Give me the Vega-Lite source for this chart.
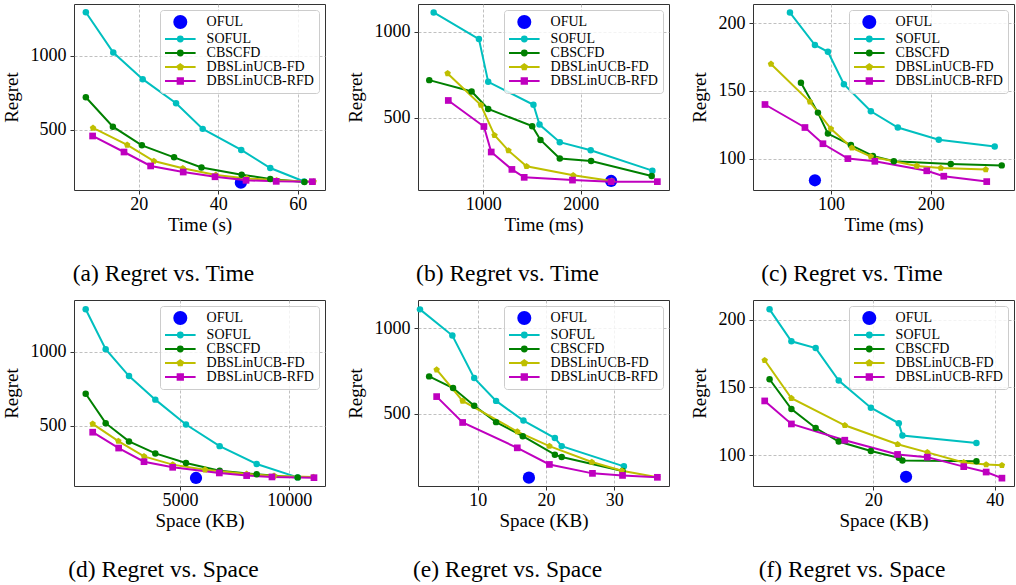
{
  "$schema": "https://vega.github.io/schema/vega-lite/v6.json",
  "padding": {"left": 1, "top": 3, "right": 0, "bottom": 0},
  "background": "white",
  "datasets": {
    "a": [
      {"method": "OFUL", "x": 45.7, "y": 144},
      {"method": "SOFUL", "x": 6.7, "y": 1293}, {"method": "SOFUL", "x": 13.6, "y": 1022}, {"method": "SOFUL", "x": 21.0, "y": 842}, {"method": "SOFUL", "x": 29.4, "y": 680}, {"method": "SOFUL", "x": 36.1, "y": 507}, {"method": "SOFUL", "x": 45.8, "y": 365}, {"method": "SOFUL", "x": 53.1, "y": 243}, {"method": "SOFUL", "x": 61.6, "y": 152},
      {"method": "CBSCFD", "x": 6.7, "y": 720}, {"method": "CBSCFD", "x": 13.5, "y": 522}, {"method": "CBSCFD", "x": 20.8, "y": 396}, {"method": "CBSCFD", "x": 28.9, "y": 315}, {"method": "CBSCFD", "x": 35.8, "y": 247}, {"method": "CBSCFD", "x": 45.9, "y": 198}, {"method": "CBSCFD", "x": 53.1, "y": 169}, {"method": "CBSCFD", "x": 61.7, "y": 149},
      {"method": "DBSLinUCB-FD", "x": 8.5, "y": 513}, {"method": "DBSLinUCB-FD", "x": 17.1, "y": 399}, {"method": "DBSLinUCB-FD", "x": 23.8, "y": 290}, {"method": "DBSLinUCB-FD", "x": 31.1, "y": 241}, {"method": "DBSLinUCB-FD", "x": 39.4, "y": 196}, {"method": "DBSLinUCB-FD", "x": 47.2, "y": 173}, {"method": "DBSLinUCB-FD", "x": 54.7, "y": 160}, {"method": "DBSLinUCB-FD", "x": 64.0, "y": 151},
      {"method": "DBSLinUCB-RFD", "x": 8.4, "y": 459}, {"method": "DBSLinUCB-RFD", "x": 16.3, "y": 351}, {"method": "DBSLinUCB-RFD", "x": 23.0, "y": 257}, {"method": "DBSLinUCB-RFD", "x": 31.2, "y": 216}, {"method": "DBSLinUCB-RFD", "x": 39.2, "y": 184}, {"method": "DBSLinUCB-RFD", "x": 47.0, "y": 160}, {"method": "DBSLinUCB-RFD", "x": 54.6, "y": 153}, {"method": "DBSLinUCB-RFD", "x": 63.7, "y": 151}
    ],
    "b": [
      {"method": "OFUL", "x": 2311, "y": 134},
      {"method": "SOFUL", "x": 492, "y": 1112}, {"method": "SOFUL", "x": 956, "y": 957}, {"method": "SOFUL", "x": 1051, "y": 709}, {"method": "SOFUL", "x": 1515, "y": 576}, {"method": "SOFUL", "x": 1577, "y": 461}, {"method": "SOFUL", "x": 1785, "y": 359}, {"method": "SOFUL", "x": 2102, "y": 312}, {"method": "SOFUL", "x": 2734, "y": 194},
      {"method": "CBSCFD", "x": 447, "y": 719}, {"method": "CBSCFD", "x": 881, "y": 653}, {"method": "CBSCFD", "x": 1051, "y": 552}, {"method": "CBSCFD", "x": 1502, "y": 452}, {"method": "CBSCFD", "x": 1587, "y": 372}, {"method": "CBSCFD", "x": 1785, "y": 264}, {"method": "CBSCFD", "x": 2106, "y": 250}, {"method": "CBSCFD", "x": 2727, "y": 163},
      {"method": "DBSLinUCB-FD", "x": 635, "y": 758}, {"method": "DBSLinUCB-FD", "x": 976, "y": 574}, {"method": "DBSLinUCB-FD", "x": 1116, "y": 399}, {"method": "DBSLinUCB-FD", "x": 1259, "y": 310}, {"method": "DBSLinUCB-FD", "x": 1444, "y": 219}, {"method": "DBSLinUCB-FD", "x": 1922, "y": 167}, {"method": "DBSLinUCB-FD", "x": 2317, "y": 134},
      {"method": "DBSLinUCB-RFD", "x": 642, "y": 601}, {"method": "DBSLinUCB-RFD", "x": 1007, "y": 450}, {"method": "DBSLinUCB-RFD", "x": 1082, "y": 302}, {"method": "DBSLinUCB-RFD", "x": 1294, "y": 201}, {"method": "DBSLinUCB-RFD", "x": 1420, "y": 155}, {"method": "DBSLinUCB-RFD", "x": 1915, "y": 139}, {"method": "DBSLinUCB-RFD", "x": 2311, "y": 130}, {"method": "DBSLinUCB-RFD", "x": 2785, "y": 130}
    ],
    "c": [
      {"method": "OFUL", "x": 84, "y": 84},
      {"method": "SOFUL", "x": 59, "y": 208}, {"method": "SOFUL", "x": 84, "y": 184}, {"method": "SOFUL", "x": 97, "y": 179}, {"method": "SOFUL", "x": 113, "y": 155}, {"method": "SOFUL", "x": 140, "y": 135}, {"method": "SOFUL", "x": 167, "y": 123}, {"method": "SOFUL", "x": 208, "y": 114}, {"method": "SOFUL", "x": 264, "y": 109},
      {"method": "CBSCFD", "x": 70, "y": 156}, {"method": "CBSCFD", "x": 87, "y": 134}, {"method": "CBSCFD", "x": 97, "y": 118.5}, {"method": "CBSCFD", "x": 120, "y": 110}, {"method": "CBSCFD", "x": 142, "y": 102}, {"method": "CBSCFD", "x": 163, "y": 98}, {"method": "CBSCFD", "x": 220, "y": 96}, {"method": "CBSCFD", "x": 271, "y": 95},
      {"method": "DBSLinUCB-FD", "x": 40, "y": 170}, {"method": "DBSLinUCB-FD", "x": 79, "y": 142}, {"method": "DBSLinUCB-FD", "x": 100, "y": 122}, {"method": "DBSLinUCB-FD", "x": 121, "y": 108}, {"method": "DBSLinUCB-FD", "x": 140, "y": 101.5}, {"method": "DBSLinUCB-FD", "x": 186, "y": 94.6}, {"method": "DBSLinUCB-FD", "x": 210, "y": 93}, {"method": "DBSLinUCB-FD", "x": 255, "y": 92},
      {"method": "DBSLinUCB-RFD", "x": 34, "y": 140}, {"method": "DBSLinUCB-RFD", "x": 74, "y": 123}, {"method": "DBSLinUCB-RFD", "x": 92, "y": 111}, {"method": "DBSLinUCB-RFD", "x": 117, "y": 100}, {"method": "DBSLinUCB-RFD", "x": 144, "y": 98}, {"method": "DBSLinUCB-RFD", "x": 196, "y": 91}, {"method": "DBSLinUCB-RFD", "x": 213, "y": 87}, {"method": "DBSLinUCB-RFD", "x": 256, "y": 83}
    ],
    "d": [
      {"method": "OFUL", "x": 5732, "y": 148},
      {"method": "SOFUL", "x": 687, "y": 1287}, {"method": "SOFUL", "x": 1601, "y": 1018}, {"method": "SOFUL", "x": 2668, "y": 836}, {"method": "SOFUL", "x": 3872, "y": 677}, {"method": "SOFUL", "x": 5274, "y": 509}, {"method": "SOFUL", "x": 6814, "y": 363}, {"method": "SOFUL", "x": 8506, "y": 242}, {"method": "SOFUL", "x": 10381, "y": 152},
      {"method": "CBSCFD", "x": 687, "y": 717}, {"method": "CBSCFD", "x": 1601, "y": 518}, {"method": "CBSCFD", "x": 2668, "y": 395}, {"method": "CBSCFD", "x": 3872, "y": 314}, {"method": "CBSCFD", "x": 5274, "y": 249}, {"method": "CBSCFD", "x": 6814, "y": 197}, {"method": "CBSCFD", "x": 8506, "y": 173}, {"method": "CBSCFD", "x": 10381, "y": 152},
      {"method": "DBSLinUCB-FD", "x": 1007, "y": 513}, {"method": "DBSLinUCB-FD", "x": 2180, "y": 397}, {"method": "DBSLinUCB-FD", "x": 3354, "y": 294}, {"method": "DBSLinUCB-FD", "x": 4665, "y": 238}, {"method": "DBSLinUCB-FD", "x": 6143, "y": 204}, {"method": "DBSLinUCB-FD", "x": 8048, "y": 175}, {"method": "DBSLinUCB-FD", "x": 9300, "y": 162}, {"method": "DBSLinUCB-FD", "x": 11100, "y": 154},
      {"method": "DBSLinUCB-RFD", "x": 1007, "y": 457}, {"method": "DBSLinUCB-RFD", "x": 2195, "y": 350}, {"method": "DBSLinUCB-RFD", "x": 3354, "y": 258}, {"method": "DBSLinUCB-RFD", "x": 4665, "y": 220}, {"method": "DBSLinUCB-RFD", "x": 6798, "y": 182}, {"method": "DBSLinUCB-RFD", "x": 8048, "y": 164}, {"method": "DBSLinUCB-RFD", "x": 9206, "y": 155}, {"method": "DBSLinUCB-RFD", "x": 11127, "y": 150}
    ],
    "e": [
      {"method": "OFUL", "x": 17.5, "y": 128},
      {"method": "SOFUL", "x": 1.56, "y": 1110}, {"method": "SOFUL", "x": 6.3, "y": 957}, {"method": "SOFUL", "x": 9.5, "y": 709}, {"method": "SOFUL", "x": 12.7, "y": 576}, {"method": "SOFUL", "x": 16.7, "y": 461}, {"method": "SOFUL", "x": 21.3, "y": 359}, {"method": "SOFUL", "x": 22.3, "y": 312}, {"method": "SOFUL", "x": 31.4, "y": 194},
      {"method": "CBSCFD", "x": 2.9, "y": 719}, {"method": "CBSCFD", "x": 6.4, "y": 651}, {"method": "CBSCFD", "x": 9.5, "y": 548}, {"method": "CBSCFD", "x": 12.7, "y": 452}, {"method": "CBSCFD", "x": 16.6, "y": 370}, {"method": "CBSCFD", "x": 21.3, "y": 262}, {"method": "CBSCFD", "x": 22.3, "y": 248}, {"method": "CBSCFD", "x": 31.2, "y": 167},
      {"method": "DBSLinUCB-FD", "x": 4.0, "y": 758}, {"method": "DBSLinUCB-FD", "x": 7.8, "y": 576}, {"method": "DBSLinUCB-FD", "x": 15.8, "y": 397}, {"method": "DBSLinUCB-FD", "x": 20.5, "y": 312}, {"method": "DBSLinUCB-FD", "x": 26.7, "y": 219}, {"method": "DBSLinUCB-FD", "x": 31.1, "y": 168}, {"method": "DBSLinUCB-FD", "x": 36.3, "y": 130},
      {"method": "DBSLinUCB-RFD", "x": 4.0, "y": 601}, {"method": "DBSLinUCB-RFD", "x": 7.8, "y": 450}, {"method": "DBSLinUCB-RFD", "x": 15.8, "y": 302}, {"method": "DBSLinUCB-RFD", "x": 20.5, "y": 205}, {"method": "DBSLinUCB-RFD", "x": 26.8, "y": 153}, {"method": "DBSLinUCB-RFD", "x": 31.2, "y": 141}, {"method": "DBSLinUCB-RFD", "x": 36.3, "y": 130}
    ],
    "f": [
      {"method": "OFUL", "x": 25.4, "y": 84},
      {"method": "SOFUL", "x": 2.9, "y": 207.6}, {"method": "SOFUL", "x": 6.5, "y": 184}, {"method": "SOFUL", "x": 10.5, "y": 179}, {"method": "SOFUL", "x": 14.3, "y": 155}, {"method": "SOFUL", "x": 19.6, "y": 135}, {"method": "SOFUL", "x": 24.2, "y": 123.5}, {"method": "SOFUL", "x": 24.8, "y": 114.5}, {"method": "SOFUL", "x": 37.0, "y": 109},
      {"method": "CBSCFD", "x": 2.9, "y": 156}, {"method": "CBSCFD", "x": 6.5, "y": 134}, {"method": "CBSCFD", "x": 10.5, "y": 120}, {"method": "CBSCFD", "x": 14.3, "y": 110}, {"method": "CBSCFD", "x": 19.6, "y": 103}, {"method": "CBSCFD", "x": 24.2, "y": 98}, {"method": "CBSCFD", "x": 24.8, "y": 96}, {"method": "CBSCFD", "x": 37.0, "y": 95.5},
      {"method": "DBSLinUCB-FD", "x": 2.1, "y": 170}, {"method": "DBSLinUCB-FD", "x": 6.5, "y": 142}, {"method": "DBSLinUCB-FD", "x": 15.3, "y": 122}, {"method": "DBSLinUCB-FD", "x": 24.0, "y": 108}, {"method": "DBSLinUCB-FD", "x": 28.9, "y": 102}, {"method": "DBSLinUCB-FD", "x": 34.9, "y": 94.6}, {"method": "DBSLinUCB-FD", "x": 38.6, "y": 93}, {"method": "DBSLinUCB-FD", "x": 41.2, "y": 92.5},
      {"method": "DBSLinUCB-RFD", "x": 2.1, "y": 140}, {"method": "DBSLinUCB-RFD", "x": 6.5, "y": 123}, {"method": "DBSLinUCB-RFD", "x": 15.3, "y": 111}, {"method": "DBSLinUCB-RFD", "x": 24.0, "y": 100.5}, {"method": "DBSLinUCB-RFD", "x": 28.9, "y": 98.5}, {"method": "DBSLinUCB-RFD", "x": 34.9, "y": 91.5}, {"method": "DBSLinUCB-RFD", "x": 38.6, "y": 87.5}, {"method": "DBSLinUCB-RFD", "x": 41.2, "y": 83}
    ]
  },
  "columns": 3,
  "align": "each",
  "spacing": {"row": 13, "column": 19},
  "resolve": {"scale": {"color": "independent", "shape": "independent"}, "legend": {"color": "independent", "shape": "independent"}},
  "concat": [
    {
      "width": 251, "height": 186,
      "data": {"name": "a"},
      "title": {"text": "(a) Regret vs. Time"},
      "encoding": {
        "x": {"field": "x", "type": "quantitative", "scale": {"domain": [3.72, 66.87], "nice": false, "zero": false}, "axis": {"values": [20, 40, 60], "format": "d", "title": "Time (s)"}},
        "y": {"field": "y", "type": "quantitative", "scale": {"domain": [94.8, 1348.9], "nice": false, "zero": false}, "axis": {"values": [500, 1000], "format": "d", "title": "Regret"}}
      },
      "layer": [
        {"transform": [{"filter": "datum.method === 'OFUL'"}], "mark": {"type": "point", "filled": true, "size": 150, "opacity": 1},
         "encoding": {"color": {"field": "method", "type": "nominal", "scale": {"domain": ["OFUL", "SOFUL", "CBSCFD", "DBSLinUCB-FD", "DBSLinUCB-RFD"], "range": ["#0000ff", "#00bfbf", "#008000", "#bfbf00", "#bf00bf"]}, "legend": {"title": null}}}},
        {"transform": [{"filter": "datum.method !== 'OFUL'"}], "mark": {"type": "line", "strokeWidth": 2}, "encoding": {"color": {"field": "method", "type": "nominal"}}},
        {"transform": [{"filter": "datum.method === 'SOFUL' || datum.method === 'CBSCFD'"}], "mark": {"type": "point", "filled": true, "shape": "circle", "size": 42, "opacity": 1}, "encoding": {"color": {"field": "method", "type": "nominal"}}},
        {"transform": [{"filter": "datum.method === 'DBSLinUCB-FD'"}], "mark": {"type": "point", "filled": true, "shape": "M0,-1L0.951,-0.309L0.588,0.809L-0.588,0.809L-0.951,-0.309Z", "size": 46, "opacity": 1}, "encoding": {"color": {"field": "method", "type": "nominal"}}},
        {"transform": [{"filter": "datum.method === 'DBSLinUCB-RFD'"}], "mark": {"type": "point", "filled": true, "shape": "square", "size": 45, "opacity": 1}, "encoding": {"color": {"field": "method", "type": "nominal"}}},
        {"transform": [{"filter": "false"}], "mark": {"type": "point", "filled": true, "opacity": 1},
         "encoding": {"color": {"field": "method", "type": "nominal"}, "shape": {"field": "method", "type": "nominal", "legend": {"title": null}, "scale": {"domain": ["OFUL", "SOFUL", "CBSCFD", "DBSLinUCB-FD", "DBSLinUCB-RFD"], "range": ["M1,0L0.924,0.383L0.707,0.707L0.383,0.924L0,1L-0.383,0.924L-0.707,0.707L-0.924,0.383L-1,0L-0.924,-0.383L-0.707,-0.707L-0.383,-0.924L0,-1L0.383,-0.924L0.707,-0.707L0.924,-0.383Z", "M-2.55,0H2.55M-0.4,0A0.4,0.4 0 1,0 0.4,0A0.4,0.4 0 1,0 -0.4,0Z", "M-2.55,0H2.55M-0.4,0A0.4,0.4 0 1,0 0.4,0A0.4,0.4 0 1,0 -0.4,0Z", "M-2.55,0H2.55M0,-0.45L0.43,-0.14L0.26,0.36L-0.26,0.36L-0.43,-0.14Z", "M-2.55,0H2.55M-0.44,-0.44H0.44V0.44H-0.44Z"]}}}}
      ]
    },
    {
      "width": 251, "height": 186,
      "data": {"name": "b"},
      "title": {"text": "(b) Regret vs. Time"},
      "encoding": {
        "x": {"field": "x", "type": "quantitative", "scale": {"domain": [331.4, 2904.4], "nice": false, "zero": false}, "axis": {"values": [1000, 2000], "format": "d", "title": "Time (ms)"}},
        "y": {"field": "y", "type": "quantitative", "scale": {"domain": [81.6, 1160.7], "nice": false, "zero": false}, "axis": {"values": [500, 1000], "format": "d", "title": "Regret"}}
      },
      "layer": [
        {"transform": [{"filter": "datum.method === 'OFUL'"}], "mark": {"type": "point", "filled": true, "size": 150, "opacity": 1},
         "encoding": {"color": {"field": "method", "type": "nominal", "scale": {"domain": ["OFUL", "SOFUL", "CBSCFD", "DBSLinUCB-FD", "DBSLinUCB-RFD"], "range": ["#0000ff", "#00bfbf", "#008000", "#bfbf00", "#bf00bf"]}, "legend": {"title": null}}}},
        {"transform": [{"filter": "datum.method !== 'OFUL'"}], "mark": {"type": "line", "strokeWidth": 2}, "encoding": {"color": {"field": "method", "type": "nominal"}}},
        {"transform": [{"filter": "datum.method === 'SOFUL' || datum.method === 'CBSCFD'"}], "mark": {"type": "point", "filled": true, "shape": "circle", "size": 42, "opacity": 1}, "encoding": {"color": {"field": "method", "type": "nominal"}}},
        {"transform": [{"filter": "datum.method === 'DBSLinUCB-FD'"}], "mark": {"type": "point", "filled": true, "shape": "M0,-1L0.951,-0.309L0.588,0.809L-0.588,0.809L-0.951,-0.309Z", "size": 46, "opacity": 1}, "encoding": {"color": {"field": "method", "type": "nominal"}}},
        {"transform": [{"filter": "datum.method === 'DBSLinUCB-RFD'"}], "mark": {"type": "point", "filled": true, "shape": "square", "size": 45, "opacity": 1}, "encoding": {"color": {"field": "method", "type": "nominal"}}},
        {"transform": [{"filter": "false"}], "mark": {"type": "point", "filled": true, "opacity": 1},
         "encoding": {"color": {"field": "method", "type": "nominal"}, "shape": {"field": "method", "type": "nominal", "legend": {"title": null}, "scale": {"domain": ["OFUL", "SOFUL", "CBSCFD", "DBSLinUCB-FD", "DBSLinUCB-RFD"], "range": ["M1,0L0.924,0.383L0.707,0.707L0.383,0.924L0,1L-0.383,0.924L-0.707,0.707L-0.924,0.383L-1,0L-0.924,-0.383L-0.707,-0.707L-0.383,-0.924L0,-1L0.383,-0.924L0.707,-0.707L0.924,-0.383Z", "M-2.55,0H2.55M-0.4,0A0.4,0.4 0 1,0 0.4,0A0.4,0.4 0 1,0 -0.4,0Z", "M-2.55,0H2.55M-0.4,0A0.4,0.4 0 1,0 0.4,0A0.4,0.4 0 1,0 -0.4,0Z", "M-2.55,0H2.55M0,-0.45L0.43,-0.14L0.26,0.36L-0.26,0.36L-0.43,-0.14Z", "M-2.55,0H2.55M-0.44,-0.44H0.44V0.44H-0.44Z"]}}}}
      ]
    },
    {
      "width": 261, "height": 186,
      "data": {"name": "c"},
      "title": {"text": "(c) Regret vs. Time"},
      "encoding": {
        "x": {"field": "x", "type": "quantitative", "scale": {"domain": [22, 283.3], "nice": false, "zero": false}, "axis": {"values": [100, 200], "title": "Time (ms)"}},
        "y": {"field": "y", "type": "quantitative", "scale": {"domain": [76.8, 214.3], "nice": false, "zero": false}, "axis": {"values": [100, 150, 200], "title": "Regret"}}
      },
      "layer": [
        {"transform": [{"filter": "datum.method === 'OFUL'"}], "mark": {"type": "point", "filled": true, "size": 150, "opacity": 1},
         "encoding": {"color": {"field": "method", "type": "nominal", "scale": {"domain": ["OFUL", "SOFUL", "CBSCFD", "DBSLinUCB-FD", "DBSLinUCB-RFD"], "range": ["#0000ff", "#00bfbf", "#008000", "#bfbf00", "#bf00bf"]}, "legend": {"title": null}}}},
        {"transform": [{"filter": "datum.method !== 'OFUL'"}], "mark": {"type": "line", "strokeWidth": 2}, "encoding": {"color": {"field": "method", "type": "nominal"}}},
        {"transform": [{"filter": "datum.method === 'SOFUL' || datum.method === 'CBSCFD'"}], "mark": {"type": "point", "filled": true, "shape": "circle", "size": 42, "opacity": 1}, "encoding": {"color": {"field": "method", "type": "nominal"}}},
        {"transform": [{"filter": "datum.method === 'DBSLinUCB-FD'"}], "mark": {"type": "point", "filled": true, "shape": "M0,-1L0.951,-0.309L0.588,0.809L-0.588,0.809L-0.951,-0.309Z", "size": 46, "opacity": 1}, "encoding": {"color": {"field": "method", "type": "nominal"}}},
        {"transform": [{"filter": "datum.method === 'DBSLinUCB-RFD'"}], "mark": {"type": "point", "filled": true, "shape": "square", "size": 45, "opacity": 1}, "encoding": {"color": {"field": "method", "type": "nominal"}}},
        {"transform": [{"filter": "false"}], "mark": {"type": "point", "filled": true, "opacity": 1},
         "encoding": {"color": {"field": "method", "type": "nominal"}, "shape": {"field": "method", "type": "nominal", "legend": {"title": null}, "scale": {"domain": ["OFUL", "SOFUL", "CBSCFD", "DBSLinUCB-FD", "DBSLinUCB-RFD"], "range": ["M1,0L0.924,0.383L0.707,0.707L0.383,0.924L0,1L-0.383,0.924L-0.707,0.707L-0.924,0.383L-1,0L-0.924,-0.383L-0.707,-0.707L-0.383,-0.924L0,-1L0.383,-0.924L0.707,-0.707L0.924,-0.383Z", "M-2.55,0H2.55M-0.4,0A0.4,0.4 0 1,0 0.4,0A0.4,0.4 0 1,0 -0.4,0Z", "M-2.55,0H2.55M-0.4,0A0.4,0.4 0 1,0 0.4,0A0.4,0.4 0 1,0 -0.4,0Z", "M-2.55,0H2.55M0,-0.45L0.43,-0.14L0.26,0.36L-0.26,0.36L-0.43,-0.14Z", "M-2.55,0H2.55M-0.44,-0.44H0.44V0.44H-0.44Z"]}}}}
      ]
    },
    {
      "width": 251, "height": 186,
      "data": {"name": "d"},
      "title": {"text": "(d) Regret vs. Space"},
      "encoding": {
        "x": {"field": "x", "type": "quantitative", "scale": {"domain": [152.5, 11631], "nice": false, "zero": false}, "axis": {"values": [5000, 10000], "format": "d", "title": "Space (KB)"}},
        "y": {"field": "y", "type": "quantitative", "scale": {"domain": [93.8, 1349.7], "nice": false, "zero": false}, "axis": {"values": [500, 1000], "format": "d", "title": "Regret"}}
      },
      "layer": [
        {"transform": [{"filter": "datum.method === 'OFUL'"}], "mark": {"type": "point", "filled": true, "size": 150, "opacity": 1},
         "encoding": {"color": {"field": "method", "type": "nominal", "scale": {"domain": ["OFUL", "SOFUL", "CBSCFD", "DBSLinUCB-FD", "DBSLinUCB-RFD"], "range": ["#0000ff", "#00bfbf", "#008000", "#bfbf00", "#bf00bf"]}, "legend": {"title": null}}}},
        {"transform": [{"filter": "datum.method !== 'OFUL'"}], "mark": {"type": "line", "strokeWidth": 2}, "encoding": {"color": {"field": "method", "type": "nominal"}}},
        {"transform": [{"filter": "datum.method === 'SOFUL' || datum.method === 'CBSCFD'"}], "mark": {"type": "point", "filled": true, "shape": "circle", "size": 42, "opacity": 1}, "encoding": {"color": {"field": "method", "type": "nominal"}}},
        {"transform": [{"filter": "datum.method === 'DBSLinUCB-FD'"}], "mark": {"type": "point", "filled": true, "shape": "M0,-1L0.951,-0.309L0.588,0.809L-0.588,0.809L-0.951,-0.309Z", "size": 46, "opacity": 1}, "encoding": {"color": {"field": "method", "type": "nominal"}}},
        {"transform": [{"filter": "datum.method === 'DBSLinUCB-RFD'"}], "mark": {"type": "point", "filled": true, "shape": "square", "size": 45, "opacity": 1}, "encoding": {"color": {"field": "method", "type": "nominal"}}},
        {"transform": [{"filter": "false"}], "mark": {"type": "point", "filled": true, "opacity": 1},
         "encoding": {"color": {"field": "method", "type": "nominal"}, "shape": {"field": "method", "type": "nominal", "legend": {"title": null}, "scale": {"domain": ["OFUL", "SOFUL", "CBSCFD", "DBSLinUCB-FD", "DBSLinUCB-RFD"], "range": ["M1,0L0.924,0.383L0.707,0.707L0.383,0.924L0,1L-0.383,0.924L-0.707,0.707L-0.924,0.383L-1,0L-0.924,-0.383L-0.707,-0.707L-0.383,-0.924L0,-1L0.383,-0.924L0.707,-0.707L0.924,-0.383Z", "M-2.55,0H2.55M-0.4,0A0.4,0.4 0 1,0 0.4,0A0.4,0.4 0 1,0 -0.4,0Z", "M-2.55,0H2.55M-0.4,0A0.4,0.4 0 1,0 0.4,0A0.4,0.4 0 1,0 -0.4,0Z", "M-2.55,0H2.55M0,-0.45L0.43,-0.14L0.26,0.36L-0.26,0.36L-0.43,-0.14Z", "M-2.55,0H2.55M-0.44,-0.44H0.44V0.44H-0.44Z"]}}}}
      ]
    },
    {
      "width": 251, "height": 186,
      "data": {"name": "e"},
      "title": {"text": "(e) Regret vs. Space"},
      "encoding": {
        "x": {"field": "x", "type": "quantitative", "scale": {"domain": [1.27, 38.0], "nice": false, "zero": false}, "axis": {"values": [10, 20, 30], "title": "Space (KB)"}},
        "y": {"field": "y", "type": "quantitative", "scale": {"domain": [79.3, 1164.7], "nice": false, "zero": false}, "axis": {"values": [500, 1000], "format": "d", "title": "Regret"}}
      },
      "layer": [
        {"transform": [{"filter": "datum.method === 'OFUL'"}], "mark": {"type": "point", "filled": true, "size": 150, "opacity": 1},
         "encoding": {"color": {"field": "method", "type": "nominal", "scale": {"domain": ["OFUL", "SOFUL", "CBSCFD", "DBSLinUCB-FD", "DBSLinUCB-RFD"], "range": ["#0000ff", "#00bfbf", "#008000", "#bfbf00", "#bf00bf"]}, "legend": {"title": null}}}},
        {"transform": [{"filter": "datum.method !== 'OFUL'"}], "mark": {"type": "line", "strokeWidth": 2}, "encoding": {"color": {"field": "method", "type": "nominal"}}},
        {"transform": [{"filter": "datum.method === 'SOFUL' || datum.method === 'CBSCFD'"}], "mark": {"type": "point", "filled": true, "shape": "circle", "size": 42, "opacity": 1}, "encoding": {"color": {"field": "method", "type": "nominal"}}},
        {"transform": [{"filter": "datum.method === 'DBSLinUCB-FD'"}], "mark": {"type": "point", "filled": true, "shape": "M0,-1L0.951,-0.309L0.588,0.809L-0.588,0.809L-0.951,-0.309Z", "size": 46, "opacity": 1}, "encoding": {"color": {"field": "method", "type": "nominal"}}},
        {"transform": [{"filter": "datum.method === 'DBSLinUCB-RFD'"}], "mark": {"type": "point", "filled": true, "shape": "square", "size": 45, "opacity": 1}, "encoding": {"color": {"field": "method", "type": "nominal"}}},
        {"transform": [{"filter": "false"}], "mark": {"type": "point", "filled": true, "opacity": 1},
         "encoding": {"color": {"field": "method", "type": "nominal"}, "shape": {"field": "method", "type": "nominal", "legend": {"title": null}, "scale": {"domain": ["OFUL", "SOFUL", "CBSCFD", "DBSLinUCB-FD", "DBSLinUCB-RFD"], "range": ["M1,0L0.924,0.383L0.707,0.707L0.383,0.924L0,1L-0.383,0.924L-0.707,0.707L-0.924,0.383L-1,0L-0.924,-0.383L-0.707,-0.707L-0.383,-0.924L0,-1L0.383,-0.924L0.707,-0.707L0.924,-0.383Z", "M-2.55,0H2.55M-0.4,0A0.4,0.4 0 1,0 0.4,0A0.4,0.4 0 1,0 -0.4,0Z", "M-2.55,0H2.55M-0.4,0A0.4,0.4 0 1,0 0.4,0A0.4,0.4 0 1,0 -0.4,0Z", "M-2.55,0H2.55M0,-0.45L0.43,-0.14L0.26,0.36L-0.26,0.36L-0.43,-0.14Z", "M-2.55,0H2.55M-0.44,-0.44H0.44V0.44H-0.44Z"]}}}}
      ]
    },
    {
      "width": 261, "height": 186,
      "data": {"name": "f"},
      "title": {"text": "(f) Regret vs. Space"},
      "encoding": {
        "x": {"field": "x", "type": "quantitative", "scale": {"domain": [0.17, 43.19], "nice": false, "zero": false}, "axis": {"values": [20, 40], "title": "Space (KB)"}},
        "y": {"field": "y", "type": "quantitative", "scale": {"domain": [77.2, 214.5], "nice": false, "zero": false}, "axis": {"values": [100, 150, 200], "title": "Regret"}}
      },
      "layer": [
        {"transform": [{"filter": "datum.method === 'OFUL'"}], "mark": {"type": "point", "filled": true, "size": 150, "opacity": 1},
         "encoding": {"color": {"field": "method", "type": "nominal", "scale": {"domain": ["OFUL", "SOFUL", "CBSCFD", "DBSLinUCB-FD", "DBSLinUCB-RFD"], "range": ["#0000ff", "#00bfbf", "#008000", "#bfbf00", "#bf00bf"]}, "legend": {"title": null}}}},
        {"transform": [{"filter": "datum.method !== 'OFUL'"}], "mark": {"type": "line", "strokeWidth": 2}, "encoding": {"color": {"field": "method", "type": "nominal"}}},
        {"transform": [{"filter": "datum.method === 'SOFUL' || datum.method === 'CBSCFD'"}], "mark": {"type": "point", "filled": true, "shape": "circle", "size": 42, "opacity": 1}, "encoding": {"color": {"field": "method", "type": "nominal"}}},
        {"transform": [{"filter": "datum.method === 'DBSLinUCB-FD'"}], "mark": {"type": "point", "filled": true, "shape": "M0,-1L0.951,-0.309L0.588,0.809L-0.588,0.809L-0.951,-0.309Z", "size": 46, "opacity": 1}, "encoding": {"color": {"field": "method", "type": "nominal"}}},
        {"transform": [{"filter": "datum.method === 'DBSLinUCB-RFD'"}], "mark": {"type": "point", "filled": true, "shape": "square", "size": 45, "opacity": 1}, "encoding": {"color": {"field": "method", "type": "nominal"}}},
        {"transform": [{"filter": "false"}], "mark": {"type": "point", "filled": true, "opacity": 1},
         "encoding": {"color": {"field": "method", "type": "nominal"}, "shape": {"field": "method", "type": "nominal", "legend": {"title": null}, "scale": {"domain": ["OFUL", "SOFUL", "CBSCFD", "DBSLinUCB-FD", "DBSLinUCB-RFD"], "range": ["M1,0L0.924,0.383L0.707,0.707L0.383,0.924L0,1L-0.383,0.924L-0.707,0.707L-0.924,0.383L-1,0L-0.924,-0.383L-0.707,-0.707L-0.383,-0.924L0,-1L0.383,-0.924L0.707,-0.707L0.924,-0.383Z", "M-2.55,0H2.55M-0.4,0A0.4,0.4 0 1,0 0.4,0A0.4,0.4 0 1,0 -0.4,0Z", "M-2.55,0H2.55M-0.4,0A0.4,0.4 0 1,0 0.4,0A0.4,0.4 0 1,0 -0.4,0Z", "M-2.55,0H2.55M0,-0.45L0.43,-0.14L0.26,0.36L-0.26,0.36L-0.43,-0.14Z", "M-2.55,0H2.55M-0.44,-0.44H0.44V0.44H-0.44Z"]}}}}
      ]
    }
  ],
  "config": {
    "font": "Liberation Serif",
    "view": {"stroke": "#333333", "strokeWidth": 1},
    "title": {"orient": "bottom", "anchor": "middle", "frame": "bounds", "offset": 28, "font": "Liberation Serif", "fontSize": 23.5, "fontWeight": "normal", "color": "black"},
    "axis": {"labelFont": "Liberation Serif", "titleFont": "Liberation Serif", "labelFontSize": 18, "titleFontSize": 19, "titleFontWeight": "normal", "labelColor": "black", "titleColor": "black", "domain": false, "ticks": true, "tickColor": "#333333", "tickSize": 4, "grid": true, "gridColor": "#b0b0b0", "gridDash": [3, 2], "gridWidth": 0.8, "labelFlush": false, "labelOverlap": false},
    "axisX": {"labelPadding": 1, "titlePadding": 2},
    "axisY": {"labelPadding": 4, "titlePadding": 9},
    "legend": {"orient": "top-right", "offset": 6, "labelFont": "Liberation Serif", "labelFontSize": 14, "labelColor": "black", "labelLimit": 0, "symbolSize": 144, "symbolStrokeWidth": 2, "symbolOffset": 8.3, "labelOffset": 19.3, "rowPadding": -1, "padding": 5, "fillColor": "rgba(255,255,255,0.8)", "strokeColor": "#cccccc", "cornerRadius": 3}
  }
}
